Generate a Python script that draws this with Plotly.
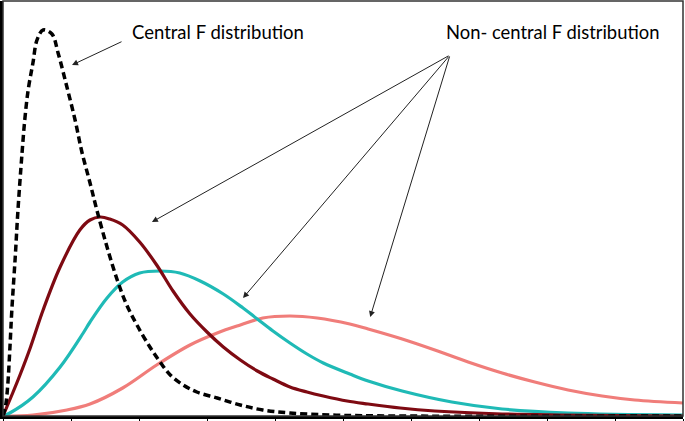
import plotly.graph_objects as go

# curves; x in tick units (0..10), y in arbitrary density units
central_x = [0, 0.04, 0.07, 0.10, 0.13, 0.18, 0.22, 0.28, 0.32, 0.37, 0.44, 0.50, 0.59, 0.72, 0.81,
             0.94, 1.06, 1.16, 1.28, 1.38, 1.53, 1.68, 1.82, 1.97, 2.16, 2.31, 2.46, 2.65, 2.85,
             3.15, 3.49, 3.82, 4.22, 4.81, 5.84, 10]
central_y = [0, 0.11, 0.31, 0.66, 1.06, 1.59, 2.06, 2.63, 2.96, 3.26, 3.53, 3.76, 3.86, 3.82, 3.63,
             3.29, 2.96, 2.64, 2.33, 2.06, 1.69, 1.36, 1.11, 0.91, 0.69, 0.54, 0.41, 0.31, 0.24,
             0.18, 0.11, 0.06, 0.03, 0.01, 0, 0]

nc1_x = [0, 0.13, 0.25, 0.40, 0.59, 0.84, 1.13, 1.28, 1.43, 1.57, 1.76, 2.01, 2.26, 2.50, 2.75,
         3.00, 3.24, 3.49, 3.74, 3.97, 4.22, 4.47, 4.71, 5.06, 5.37, 5.84, 6.35, 7.34, 8.19, 10]
nc1_y = [0, 0.21, 0.41, 0.68, 1.06, 1.49, 1.86, 1.96, 1.99, 1.97, 1.91, 1.74, 1.51, 1.25, 1.02,
         0.84, 0.69, 0.56, 0.45, 0.37, 0.29, 0.24, 0.20, 0.15, 0.12, 0.08, 0.05, 0.02, 0.01, 0]

nc2_x = [0, 0.10, 0.44, 0.84, 1.18, 1.28, 1.53, 1.76, 2.01, 2.31, 2.60, 2.90, 3.24, 3.53, 3.74,
         3.97, 4.22, 4.47, 4.71, 5.10, 5.37, 5.87, 6.60, 7.34, 8.31, 10]
nc2_y = [0, 0.03, 0.19, 0.49, 0.83, 0.94, 1.18, 1.34, 1.43, 1.45, 1.43, 1.35, 1.22, 1.08, 0.97,
         0.85, 0.73, 0.62, 0.53, 0.42, 0.35, 0.25, 0.14, 0.07, 0.03, 0.01]

nc3_x = [0, 0.44, 0.94, 1.28, 1.76, 2.26, 2.75, 3.15, 3.49, 3.82, 4.22, 4.62, 5.10, 5.37, 5.87,
         6.35, 6.84, 7.34, 7.82, 8.31, 8.81, 9.29, 10]
nc3_y = [0, 0.01, 0.06, 0.12, 0.28, 0.51, 0.71, 0.83, 0.91, 0.98, 1.00, 0.98, 0.92, 0.87, 0.77,
         0.66, 0.54, 0.43, 0.34, 0.26, 0.20, 0.16, 0.13]

x_ticks = list(range(0, 11))

LINE_W = 3.2
FONT = "Lato"
SMOOTH = 1.0

fig = go.Figure()
fig.add_trace(go.Scatter(x=nc3_x, y=nc3_y, mode="lines", line=dict(color="#F07D7A", width=LINE_W, shape="spline", smoothing=SMOOTH)))
fig.add_trace(go.Scatter(x=nc2_x, y=nc2_y, mode="lines", line=dict(color="#1FBAB6", width=LINE_W, shape="spline", smoothing=SMOOTH)))
fig.add_trace(go.Scatter(x=nc1_x, y=nc1_y, mode="lines", line=dict(color="#7E0A12", width=LINE_W, shape="spline", smoothing=SMOOTH)))
fig.add_trace(go.Scatter(x=central_x, y=central_y, mode="lines",
                         line=dict(color="black", width=3.5, dash="7px,4px", shape="spline", smoothing=SMOOTH)))

# labels and arrows
fig.add_annotation(x=1.87, y=3.84, xanchor="left", yanchor="middle", text="Central F distribution",
                   showarrow=False, font=dict(family=FONT, size=18.5, color="black"))
fig.add_annotation(x=1.015, y=3.51, ax=1.765, ay=3.75, axref="x", ayref="y", text="",
                   showarrow=True, arrowhead=2, arrowsize=1.2, arrowwidth=1, arrowcolor="#222")

fig.add_annotation(x=6.49, y=3.84, xanchor="left", yanchor="middle", text="Non- central F distribution",
                   showarrow=False, font=dict(family=FONT, size=18.4, color="black"))
for tip_x, tip_y in [(2.19, 1.94), (3.53, 1.18), (5.40, 0.99)]:
    fig.add_annotation(x=tip_x, y=tip_y, ax=6.574, ay=3.61, axref="x", ayref="y", text="",
                       showarrow=True, arrowhead=2, arrowsize=1.2, arrowwidth=1, arrowcolor="#222")

# thin frame around the picture
fig.add_shape(type="rect", xref="paper", yref="paper", x0=0, y0=0, x1=1, y1=1,
              line=dict(color="#333", width=1.5))

fig.update_xaxes(range=[0, 10], tickvals=x_ticks, ticks="outside", ticklen=4, tickcolor="black",
                 showticklabels=False, showgrid=False, zeroline=False,
                 showline=True, linecolor="black", linewidth=2.5)
fig.update_yaxes(range=[0, 4.15], showticklabels=False, showgrid=False, zeroline=False,
                 showline=True, linecolor="black", linewidth=3.5)
fig.update_layout(width=685, height=421, margin=dict(l=3, r=2, t=1, b=5),
                  plot_bgcolor="white", paper_bgcolor="white", showlegend=False)

# drop the browser's default page margin so the figure sits at the window corner
fig.write_html("out.html", config={"displayModeBar": False},
               post_script="document.body.style.margin='0';document.body.style.overflow='hidden';")
